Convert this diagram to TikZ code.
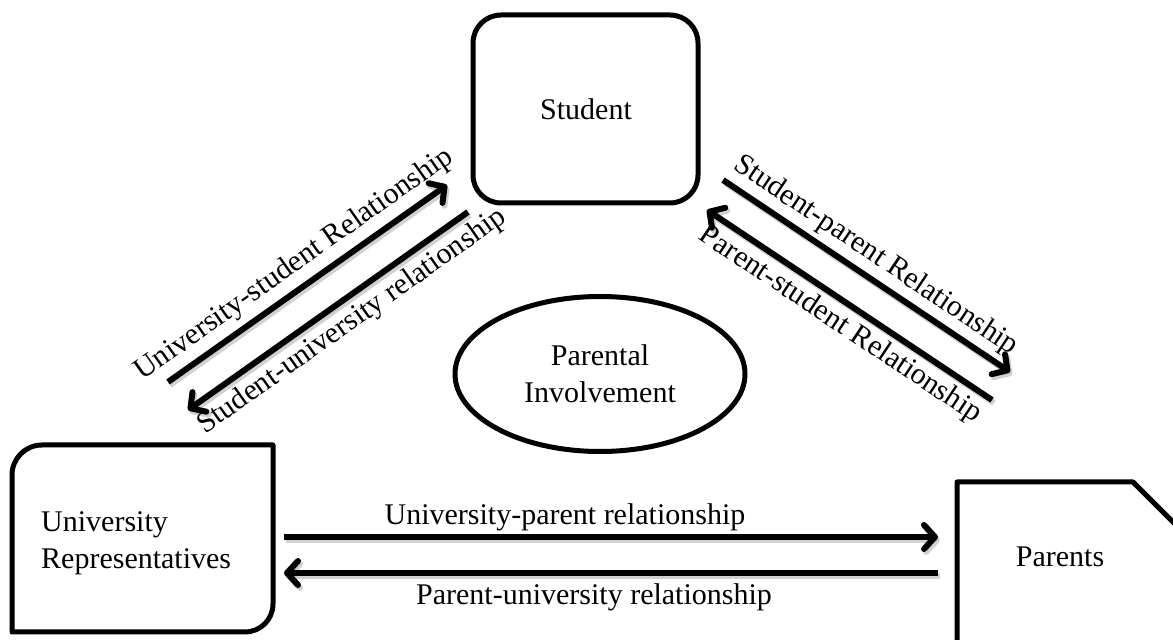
\documentclass[tikz,border=0pt]{standalone}
\usepackage{fontspec}
\setmainfont{Liberation Serif}
\usetikzlibrary{arrows.meta,shapes.geometric}
\begin{document}
\begin{tikzpicture}[x=1pt,y=1pt,
  box/.style={draw=black, line width=5pt, line join=round},
  rel/.style={line width=6pt, -{Straight Barb[length=11pt,width=24pt,round]},
    preaction={draw=black!18, line width=6pt, transform canvas={shift={(2pt,-3pt)}}}},
  lbl/.style={font=\fontsize{30}{37}\selectfont, inner sep=0pt},
]
\useasboundingbox (0,0) rectangle (1173,640);
\begin{scope}
\clip (0,0) rectangle (1173,640);
% Student
\node[box, rounded corners=28pt, minimum width=225pt, minimum height=188pt, lbl] (student) at (585.5,531) {};
\node[lbl, anchor=base] (studentlbl) at (586,520) {Student};
% University Representatives
\draw[box] (12,8) -- (12,165) arc[start angle=180,end angle=90,radius=30] -- (273,195)
  -- (273,36) arc[start angle=0,end angle=-90,radius=28] -- cycle;
\node[lbl, anchor=west, align=left] (univ) at (41,97) {University\\Representatives};
% Parents
\draw[box] (957,-10) -- (957,158) -- (1133,158) -- (1185,106);
\node[lbl, anchor=base] (parents) at (1060,73) {Parents};
% Parental Involvement
\node[box, ellipse, minimum width=290pt, minimum height=155pt, lbl, align=center] (pi) at (600,266) {Parental\\Involvement};
\end{scope}
% arrow end points
\coordinate (us1) at (168,258); \coordinate (us2) at (447,455);
\coordinate (su1) at (468,428); \coordinate (su2) at (188,230);
\coordinate (sp1) at (723,460); \coordinate (sp2) at (1010,268);
\coordinate (ps1) at (992,240); \coordinate (ps2) at (707,430);
\coordinate (up1) at (284,103); \coordinate (up2) at (938,103);
\coordinate (pu1) at (938,67);  \coordinate (pu2) at (284,67);
% arrows
\draw[rel] (us1) -- (us2);
\draw[rel] (su1) -- (su2);
\draw[rel] (sp1) -- (sp2);
\draw[rel] (ps1) -- (ps2);
\draw[rel] (up1) -- (up2);
\draw[rel] (pu1) -- (pu2);
% labels
\path (us1) -- (us2) node[lbl, sloped, pos=0.5, above=9pt] (uslbl) {University-student Relationship};
\path (su2) -- (su1) node[lbl, sloped, pos=0.54, below=9pt] (sulbl) {Student-university relationship};
\path (sp1) -- (sp2) node[lbl, sloped, pos=0.49, above=8pt] (splbl) {Student-parent Relationship};
\path (ps2) -- (ps1) node[lbl, sloped, pos=0.51, below=8pt] (pslbl) {Parent-student Relationship};
\node[lbl, anchor=base] (uplbl) at (565,115) {University-parent relationship};
\node[lbl, anchor=base] (pulbl) at (594,35) {Parent-university relationship};
\end{tikzpicture}
\end{document}
